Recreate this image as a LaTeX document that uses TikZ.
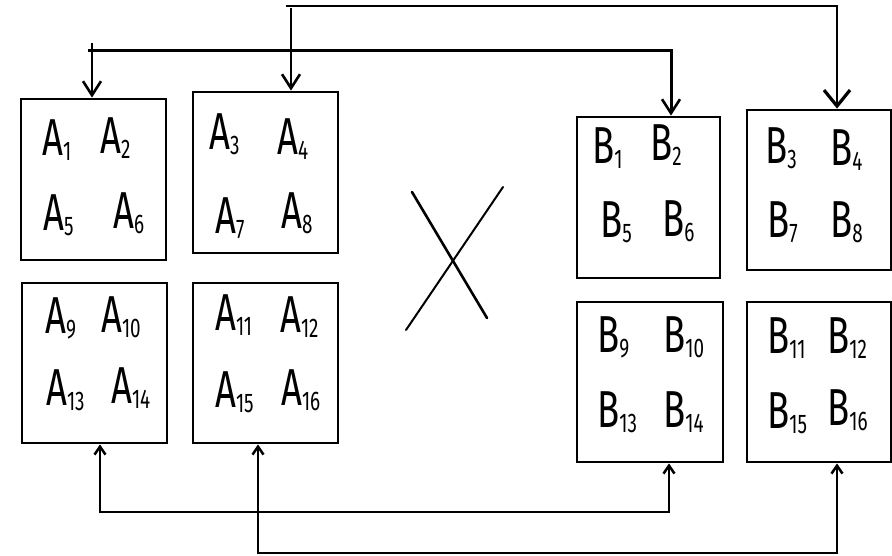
\documentclass[tikz,border=0pt]{standalone}
\usepackage{fontspec}
\setmainfont{Fira Sans}
\usetikzlibrary{arrows.meta}

% one matrix entry: a letter with a lowered index, narrowed like handwriting
\newcommand{\entry}[2]{\scalebox{0.7}[1]{\fontsize{52}{52}\selectfont #1\raisebox{-5pt}{\fontsize{27}{27}\selectfont #2}}}

\begin{document}
\begin{tikzpicture}[x=1pt,y=-1pt,
  block/.style={draw,line width=2.8pt,minimum width=145pt,inner sep=0pt},
  lbl/.style={anchor=base west,inner sep=0pt},
  conn/.style={line width=2.5pt},
  bigtip/.style={-{Straight Barb[length=14pt,width=18pt,line width=2.6pt]}},
  widetip/.style={-{Straight Barb[length=16pt,width=26pt,line width=3.2pt]}},
  smalltip/.style={{Straight Barb[length=8pt,width=11pt,line width=2.5pt]}-{Straight Barb[length=8pt,width=11pt,line width=2.5pt]}},
  cross/.style={line width=2.6pt,line cap=round}]
\useasboundingbox (0,0) rectangle (892,555);

% sixteen-entry blocks of A
\node[block,minimum height=161pt] (A1)  at (93.5,179.5) {};
\node[block,minimum height=161pt] (A3)  at (265.5,172.5) {};
\node[block,minimum height=160pt] (A9)  at (94.5,363) {};
\node[block,minimum height=160pt] (A11) at (265.5,363) {};
% sixteen-entry blocks of B
\node[block,minimum width=143pt,minimum height=161pt] (B1) at (648.5,197.5) {};
\node[block,minimum width=144pt,minimum height=160pt] (B3) at (819,190) {};
\node[block,minimum width=146pt,minimum height=160pt] (B9) at (650,382) {};
\node[block,minimum width=144pt,minimum height=160pt] (B11) at (819,382) {};

% entries of A
\node[lbl] (a1)  at (42,155)  {\entry{A}{1}};
\node[lbl] (a2)  at (100,153) {\entry{A}{2}};
\node[lbl] (a5)  at (43,230)  {\entry{A}{5}};
\node[lbl] (a6)  at (113,228) {\entry{A}{6}};
\node[lbl] (a3)  at (209,149) {\entry{A}{3}};
\node[lbl] (a4)  at (277,154) {\entry{A}{4}};
\node[lbl] (a7)  at (215,233) {\entry{A}{7}};
\node[lbl] (a8)  at (281,228) {\entry{A}{8}};
\node[lbl] (a9)  at (45,333)  {\entry{A}{9}};
\node[lbl] (a10) at (101,332) {\entry{A}{10}};
\node[lbl] (a13) at (46,405)  {\entry{A}{13}};
\node[lbl] (a14) at (111,403) {\entry{A}{14}};
\node[lbl] (a11) at (215,330) {\entry{A}{11}};
\node[lbl] (a12) at (280,332) {\entry{A}{12}};
\node[lbl] (a15) at (215,407) {\entry{A}{15}};
\node[lbl] (a16) at (281,405) {\entry{A}{16}};

% entries of B
\node[lbl] (b1)  at (592,163) {\entry{B}{1}};
\node[lbl] (b2)  at (650,160) {\entry{B}{2}};
\node[lbl] (b5)  at (600,237) {\entry{B}{5}};
\node[lbl] (b6)  at (662,236) {\entry{B}{6}};
\node[lbl] (b3)  at (765,163) {\entry{B}{3}};
\node[lbl] (b4)  at (830,165) {\entry{B}{4}};
\node[lbl] (b7)  at (767,237) {\entry{B}{7}};
\node[lbl] (b8)  at (830,237) {\entry{B}{8}};
\node[lbl] (b9)  at (597,352) {\entry{B}{9}};
\node[lbl] (b10) at (663,352) {\entry{B}{10}};
\node[lbl] (b13) at (597,427) {\entry{B}{13}};
\node[lbl] (b14) at (663,427) {\entry{B}{14}};
\node[lbl] (b11) at (767,353) {\entry{B}{11}};
\node[lbl] (b12) at (827,353) {\entry{B}{12}};
\node[lbl] (b15) at (767,428) {\entry{B}{15}};
\node[lbl] (b16) at (827,425) {\entry{B}{16}};

% multiplication sign
\draw[cross] (412,192) -- (487,318);
\draw[cross,line width=2pt] (503,187) -- (406,330);

% routing columns and rails
\coordinate (c1) at (92,0);
\coordinate (c2) at (291,0);
\coordinate (c3) at (671,0);
\coordinate (c4) at (837,0);
\coordinate (c5) at (100,0);
\coordinate (c6) at (258,0);
\coordinate (c7) at (669,0);
\coordinate (r1) at (88,50);
\coordinate (r2) at (286,6);
\coordinate (r3) at (0,512);
\coordinate (r4) at (0,553);
\coordinate (t1) at (92,43);
\coordinate (t2) at (291,8);

% top feeds
\draw[conn,bigtip] (t1) -- (c1 |- A1.north);
\draw[conn,line width=3pt,bigtip] (r1) -| (c3 |- B1.north);
\draw[conn,bigtip] (t2) -- (c2 |- A3.north);
\draw[conn,line width=2.3pt,widetip] (r2) -| (c4 |- B3.north);

% bottom links
\draw[conn,smalltip] (c5 |- A9.south) -- (c5 |- r3) -| (c7 |- B9.south);
\draw[conn,smalltip] (c6 |- A11.south) -- (c6 |- r4) -| (c4 |- B11.south);
\end{tikzpicture}
\end{document}
